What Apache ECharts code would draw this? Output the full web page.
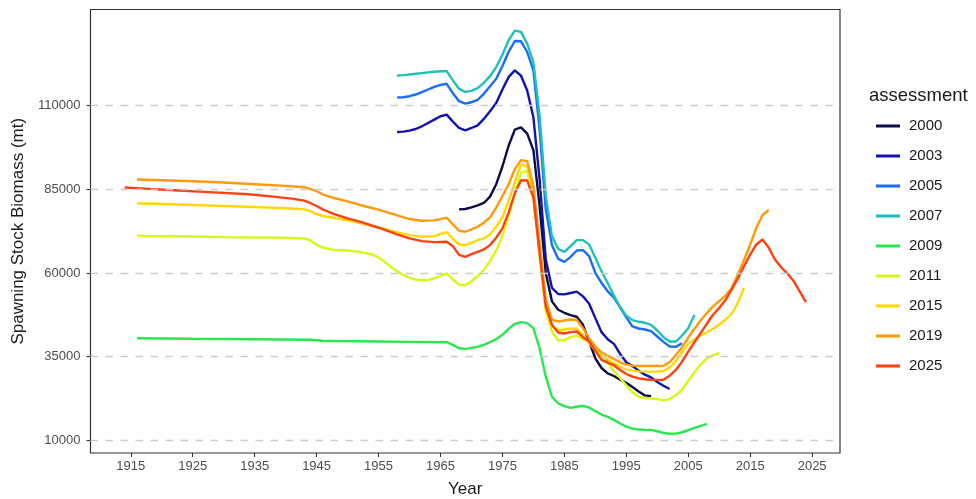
<!DOCTYPE html>
<html>
<head>
<meta charset="utf-8">
<script src="https://cdn.jsdelivr.net/npm/echarts@6/dist/echarts.min.js"></script>
<style>
  html, body { margin: 0; padding: 0; background: #fff; }
  #chart { width: 976px; height: 499px; }
</style>
</head>
<body>
<div id="chart"></div>
<script>
// Spawning stock biomass (mt) by year, one run per stock assessment.
const assessments = ['2000', '2003', '2005', '2007', '2009', '2011', '2015', '2019', '2025'];
const colors = ['#0c0c48', '#1212b0', '#1a6ef5', '#1ec0b8', '#28e84c', '#d8f814', '#ffd800', '#ff9a08', '#ff4010'];

const xTicks = [1915, 1925, 1935, 1945, 1955, 1965, 1975, 1985, 1995, 2005, 2015, 2025];
const yTicks = [10000, 35000, 60000, 85000, 110000];

const ssb2000 = [
  [1968, 79000], [1969, 79100], [1970, 79600], [1971, 80200], [1972, 80900], [1973, 82800],
  [1974, 86500], [1975, 91800], [1976, 98000], [1977, 102800], [1978, 103500], [1979, 101600],
  [1980, 96700], [1981, 80000], [1982, 60000], [1983, 51500], [1984, 49000], [1985, 48100],
  [1986, 47400], [1987, 46900], [1988, 44500], [1989, 39500], [1990, 34500], [1991, 31600],
  [1992, 30000], [1993, 29200], [1994, 28100], [1995, 27200], [1996, 25900], [1997, 24600],
  [1998, 23400], [1999, 23200]
];

const ssb2003 = [
  [1958, 102100], [1959, 102200], [1960, 102500], [1961, 103000], [1962, 103800], [1963, 104800],
  [1964, 105800], [1965, 106800], [1966, 107300], [1967, 105200], [1968, 103300], [1969, 102600],
  [1970, 103300], [1971, 104100], [1972, 106000], [1973, 108300], [1974, 110800], [1975, 114800],
  [1976, 118500], [1977, 120500], [1978, 118900], [1979, 114500], [1980, 106500], [1981, 88000],
  [1982, 64000], [1983, 55500], [1984, 53700], [1985, 53600], [1986, 54000], [1987, 54400],
  [1988, 53000], [1989, 50800], [1990, 46500], [1991, 42300], [1992, 40200], [1993, 38800],
  [1994, 35800], [1995, 33300], [1996, 32200], [1997, 30800], [1998, 29600], [1999, 28800],
  [2000, 27400], [2001, 26300], [2002, 25300]
];

const ssb2005 = [
  [1958, 112400], [1959, 112500], [1960, 112800], [1961, 113300], [1962, 114000], [1963, 114800],
  [1964, 115600], [1965, 116200], [1966, 116500], [1967, 113700], [1968, 111300], [1969, 110600],
  [1970, 111000], [1971, 111700], [1972, 113500], [1973, 115800], [1974, 118000], [1975, 121800],
  [1976, 126000], [1977, 129300], [1978, 129200], [1979, 126000], [1980, 120500], [1981, 103000],
  [1982, 79000], [1983, 68300], [1984, 64200], [1985, 63300], [1986, 64800], [1987, 66700],
  [1988, 66800], [1989, 65000], [1990, 60000], [1991, 57000], [1992, 54500], [1993, 52600],
  [1994, 49700], [1995, 46700], [1996, 44000], [1997, 43400], [1998, 43100], [1999, 42600],
  [2000, 41000], [2001, 39400], [2002, 38000], [2003, 37900], [2004, 39000]
];

const ssb2007 = [
  [1958, 119000], [1959, 119100], [1960, 119300], [1961, 119500], [1962, 119700], [1963, 119900],
  [1964, 120100], [1965, 120250], [1966, 120300], [1967, 117500], [1968, 115000], [1969, 114100],
  [1970, 114400], [1971, 115200], [1972, 116800], [1973, 118800], [1974, 121500], [1975, 125200],
  [1976, 129500], [1977, 132400], [1978, 132000], [1979, 128500], [1980, 123000], [1981, 107000],
  [1982, 83000], [1983, 71000], [1984, 67200], [1985, 66300], [1986, 68000], [1987, 69800],
  [1988, 69800], [1989, 68500], [1990, 64500], [1991, 60500], [1992, 57000], [1993, 53200],
  [1994, 49800], [1995, 47200], [1996, 45900], [1997, 45400], [1998, 45100], [1999, 44500],
  [2000, 42800], [2001, 40800], [2002, 39500], [2003, 39500], [2004, 41300], [2005, 43500],
  [2006, 47400]
];

const ssb2009 = [
  [1916, 40500], [1925, 40350], [1935, 40200], [1944, 40050], [1946, 39750], [1948, 39650],
  [1955, 39500], [1960, 39400], [1966, 39300], [1967, 38500], [1968, 37500], [1969, 37300],
  [1970, 37600], [1971, 37900], [1972, 38500], [1973, 39300], [1974, 40200], [1975, 41500],
  [1976, 43300], [1977, 44800], [1978, 45300], [1979, 45000], [1980, 43500], [1981, 37500],
  [1982, 29000], [1983, 23000], [1984, 21000], [1985, 20200], [1986, 19700], [1987, 20000],
  [1988, 20300], [1989, 19800], [1990, 18700], [1991, 17700], [1992, 17000], [1993, 16100],
  [1994, 15000], [1995, 14100], [1996, 13500], [1997, 13200], [1998, 13100], [1999, 13100],
  [2000, 12700], [2001, 12200], [2002, 11950], [2003, 12000], [2004, 12400], [2005, 13000],
  [2006, 13700], [2007, 14300], [2008, 14900]
];

const ssb2011 = [
  [1916, 71100], [1920, 71000], [1925, 70900], [1930, 70700], [1935, 70600], [1940, 70500],
  [1943, 70300], [1944, 69700], [1945, 68400], [1946, 67600], [1947, 67100], [1948, 66900],
  [1950, 66700], [1952, 66300], [1954, 65500], [1955, 64600], [1956, 63300], [1957, 61800],
  [1958, 60500], [1959, 59400], [1960, 58600], [1961, 58000], [1962, 57800], [1963, 57900],
  [1964, 58400], [1965, 59100], [1966, 59900], [1967, 58000], [1968, 56500], [1969, 56300],
  [1970, 57500], [1971, 59000], [1972, 60900], [1973, 63500], [1974, 66700], [1975, 71000],
  [1976, 77000], [1977, 83500], [1978, 90000], [1979, 90500], [1980, 83000], [1981, 65000],
  [1982, 48500], [1983, 42500], [1984, 39800], [1985, 39900], [1986, 40800], [1987, 41300],
  [1988, 40200], [1989, 39500], [1990, 37800], [1991, 35500], [1992, 33300], [1993, 30600],
  [1994, 28600], [1995, 26400], [1996, 24300], [1997, 23000], [1998, 22600], [1999, 22500],
  [2000, 22300], [2001, 21900], [2002, 22300], [2003, 23500], [2004, 25100], [2005, 27800],
  [2006, 30300], [2007, 32700], [2008, 34500], [2009, 35400], [2010, 36000]
];

const ssb2015 = [
  [1916, 80800], [1920, 80600], [1925, 80300], [1930, 80000], [1935, 79700], [1940, 79300],
  [1943, 79000], [1944, 78500], [1945, 77600], [1946, 77000], [1948, 76400], [1950, 75700],
  [1952, 74900], [1955, 73600], [1958, 72200], [1960, 71300], [1962, 70800], [1964, 71000],
  [1966, 72200], [1967, 70200], [1968, 68500], [1969, 68300], [1970, 69000], [1971, 69800],
  [1972, 70300], [1973, 71500], [1974, 73800], [1975, 76500], [1976, 81500], [1977, 87000],
  [1978, 92400], [1979, 91800], [1980, 84500], [1981, 67000], [1982, 50000], [1983, 44000],
  [1984, 43000], [1985, 43100], [1986, 43400], [1987, 43300], [1988, 41500], [1989, 39000],
  [1990, 36800], [1991, 35200], [1992, 34000], [1993, 33000], [1994, 32000], [1995, 31200],
  [1996, 30800], [1997, 30600], [1998, 30500], [1999, 30500], [2000, 30500], [2001, 30700],
  [2002, 31700], [2003, 33700], [2004, 36300], [2005, 38800], [2006, 40100], [2007, 41300],
  [2008, 42200], [2009, 43300], [2010, 44500], [2011, 46000], [2012, 47800], [2013, 51000],
  [2014, 55500]
];

const ssb2019 = [
  [1916, 87900], [1920, 87700], [1925, 87400], [1930, 87000], [1935, 86500], [1940, 86000],
  [1943, 85600], [1944, 85100], [1945, 84400], [1946, 83500], [1947, 82800], [1948, 82300],
  [1950, 81400], [1952, 80300], [1955, 78900], [1958, 77200], [1960, 76100], [1962, 75600],
  [1964, 75700], [1966, 76500], [1967, 74500], [1968, 72600], [1969, 72300], [1970, 73000],
  [1971, 73800], [1972, 75000], [1973, 76600], [1974, 79500], [1975, 83000], [1976, 86500],
  [1977, 91000], [1978, 93700], [1979, 93400], [1980, 86000], [1981, 69000], [1982, 52000],
  [1983, 46000], [1984, 45500], [1985, 45800], [1986, 46100], [1987, 46000], [1988, 43500],
  [1989, 40500], [1990, 38000], [1991, 36300], [1992, 35200], [1993, 34300], [1994, 33300],
  [1995, 32600], [1996, 32300], [1997, 32200], [1998, 32200], [1999, 32200], [2000, 32200],
  [2001, 32300], [2002, 33300], [2003, 35500], [2004, 37800], [2005, 40700], [2006, 43300],
  [2007, 45800], [2008, 48000], [2009, 50000], [2010, 51600], [2011, 53200], [2012, 55500],
  [2013, 59500], [2014, 63800], [2015, 68500], [2016, 73500], [2017, 77300], [2018, 78800]
];

const ssb2025 = [
  [1914, 85500], [1918, 85100], [1922, 84700], [1926, 84300], [1930, 83900], [1934, 83500],
  [1938, 82800], [1941, 82200], [1943, 81600], [1944, 80900], [1945, 80000], [1946, 79000],
  [1947, 78200], [1948, 77500], [1950, 76300], [1952, 75300], [1955, 73500], [1958, 71500],
  [1960, 70300], [1962, 69500], [1964, 69200], [1966, 69300], [1967, 68000], [1968, 65400],
  [1969, 64800], [1970, 65600], [1971, 66300], [1972, 67000], [1973, 68300], [1974, 70500],
  [1975, 73300], [1976, 78000], [1977, 83800], [1978, 87700], [1979, 87600], [1980, 82500],
  [1981, 66000], [1982, 50000], [1983, 44500], [1984, 42200], [1985, 41900], [1986, 42300],
  [1987, 42500], [1988, 40800], [1989, 39500], [1990, 36800], [1991, 34000], [1992, 33200],
  [1993, 32400], [1994, 31000], [1995, 29800], [1996, 29000], [1997, 28500], [1998, 28250],
  [1999, 28100], [2000, 28050], [2001, 28050], [2002, 29300], [2003, 31000], [2004, 33500],
  [2005, 36500], [2006, 39300], [2007, 42000], [2008, 44800], [2009, 47500], [2010, 49500],
  [2011, 51900], [2012, 55000], [2013, 58300], [2014, 62000], [2015, 65500], [2016, 68500],
  [2017, 70000], [2018, 67500], [2019, 64000], [2020, 61700], [2021, 59800], [2022, 57600],
  [2023, 54500], [2024, 51300]
];

const seriesData = [ssb2000, ssb2003, ssb2005, ssb2007, ssb2009, ssb2011, ssb2015, ssb2019, ssb2025];

const chart = echarts.init(document.getElementById('chart'), null, { renderer: 'canvas' });

const FONT = 'Liberation Sans, Arial, Helvetica, sans-serif';

const lineSeries = assessments.map((name, i) => ({
  name: name,
  type: 'line',
  data: seriesData[i],
  showSymbol: false,
  symbol: 'none',
  smooth: false,
  z: 3,
  lineStyle: { width: 2.4, color: colors[i] },
  itemStyle: { color: colors[i] },
  emphasis: { disabled: true }
}));

// Dashed horizontal guides at each labelled biomass level
const gridGuides = {
  name: 'guides',
  type: 'line',
  data: [],
  z: 1,
  silent: true,
  markLine: {
    silent: true,
    symbol: 'none',
    label: { show: false },
    animation: false,
    lineStyle: { type: [7.5, 7.5], color: '#cccccc', width: 1.3 },
    data: yTicks.map(v => ({ yAxis: v }))
  }
};

chart.setOption({
  animation: false,
  backgroundColor: '#ffffff',
  textStyle: { fontFamily: FONT },
  title: {
    text: 'assessment',
    left: 864,
    top: 81,
    textStyle: { fontFamily: FONT, fontSize: 18.5, fontWeight: 'normal', color: '#1a1a1a' }
  },
  legend: {
    data: assessments,
    orient: 'vertical',
    left: 871,
    top: 113,
    icon: 'rect',
    itemWidth: 24,
    itemHeight: 3,
    itemGap: 14,
    selectedMode: false,
    textStyle: { fontFamily: FONT, fontSize: 15, color: '#1a1a1a', lineHeight: 16, padding: [0, 0, 0, 4] }
  },
  grid: {
    left: 90.5,
    right: 136,
    top: 9.5,
    bottom: 46,
    outerBoundsMode: 'none',
    containLabel: false,
    show: true,
    borderColor: '#333333',
    borderWidth: 1.2,
    backgroundColor: 'transparent'
  },
  xAxis: {
    type: 'value',
    min: 1908.5,
    max: 2029.5,
    name: 'Year',
    nameLocation: 'middle',
    nameGap: 28,
    nameTextStyle: { fontFamily: FONT, fontSize: 17, color: '#1a1a1a' },
    axisLine: { show: false },
    splitLine: { show: false },
    axisTick: { show: true, length: 4, lineStyle: { color: '#333333', width: 1.1 }, customValues: xTicks },
    axisLabel: { customValues: xTicks, fontFamily: FONT, fontSize: 13, color: '#4d4d4d', margin: 7, formatter: v => String(v) }
  },
  yAxis: {
    type: 'value',
    min: 6200,
    max: 138700,
    name: 'Spawning Stock Biomass (mt)',
    nameLocation: 'middle',
    nameGap: 64,
    nameTextStyle: { fontFamily: FONT, fontSize: 17, color: '#1a1a1a' },
    axisLine: { show: false },
    splitLine: { show: false },
    axisTick: { show: true, length: 4, lineStyle: { color: '#333333', width: 1.1 }, customValues: yTicks },
    axisLabel: { customValues: yTicks, fontFamily: FONT, fontSize: 13, color: '#4d4d4d', margin: 10, formatter: v => String(v) }
  },
  series: [gridGuides].concat(lineSeries)
});
</script>
</body>
</html>
